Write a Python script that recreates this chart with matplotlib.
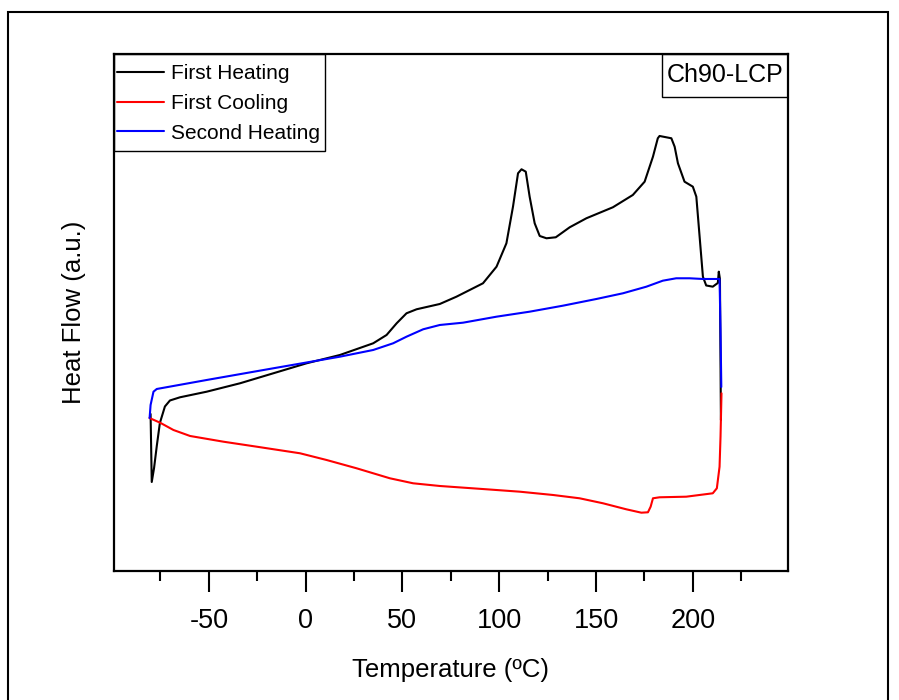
import matplotlib
matplotlib.use("Agg")
import matplotlib.pyplot as plt
from matplotlib.patches import Rectangle
from matplotlib.ticker import MultipleLocator

plt.rcParams["font.family"] = ["Liberation Sans", "DejaVu Sans"]
plt.rcParams["axes.unicode_minus"] = False

# First heating
t_heat1 = [-80.1, -79.5, -78.3, -76.9, -75.3, -72.7, -70.1, -64.9, -51.1, -33.9,
           -16.7, 0.5, 17.7, 34.9, 41.8, 47.0, 52.1, 57.3, 69.3, 77.9,
           91.6, 98.6, 103.7, 107.1, 109.7, 111.5, 113.7, 115.7, 118.3, 120.9,
           124.4, 129.2, 136.4, 145.0, 158.7, 169.0, 175.1, 179.4, 181.9, 182.8,
           188.9, 190.6, 192.3, 195.7, 200.0, 201.8, 203.5, 205.2, 206.9, 210.3,
           212.9, 213.4, 214.0, 214.5]
hf_heat1 = [1.57, 0.89, 1.03, 1.25, 1.48, 1.645, 1.705, 1.737, 1.793, 1.877,
            1.977, 2.077, 2.16, 2.277, 2.36, 2.477, 2.577, 2.617, 2.67, 2.743,
            2.877, 3.043, 3.277, 3.643, 3.977, 4.017, 3.993, 3.743, 3.477, 3.35,
            3.327, 3.337, 3.437, 3.527, 3.637, 3.76, 3.893, 4.143, 4.327, 4.35,
            4.327, 4.243, 4.077, 3.893, 3.843, 3.743, 3.343, 2.943, 2.855, 2.843,
            2.88, 2.993, 2.92, 1.51]

# First cooling
t_cool = [214.8, 214.3, 213.8, 212.4, 210.3, 196.6, 182.8, 179.4, 178.2, 176.8,
          173.4, 165.6, 153.6, 141.5, 127.8, 110.6, 93.4, 69.3, 55.5, 43.5,
          26.3, 10.8, -2.9, -25.3, -42.5, -59.7, -68.3, -75.2, -80.7]
hf_cool = [1.777, 1.343, 1.043, 0.827, 0.777, 0.743, 0.737, 0.727, 0.643, 0.587,
           0.583, 0.617, 0.677, 0.727, 0.76, 0.793, 0.817, 0.85, 0.877, 0.927,
           1.027, 1.11, 1.177, 1.243, 1.293, 1.35, 1.41, 1.483, 1.53]

# Second heating
t_heat2 = [-80.6, -80.1, -78.6, -76.9, -51.1, -16.7, 17.7, 34.9, 45.2, 52.1,
           60.7, 69.3, 81.3, 98.6, 115.7, 132.9, 150.2, 163.9, 176.0, 184.5,
           191.4, 198.3, 205.2, 213.8, 214.3, 214.7]
hf_heat2 = [1.53, 1.66, 1.793, 1.82, 1.91, 2.027, 2.143, 2.21, 2.277, 2.343,
            2.417, 2.46, 2.483, 2.543, 2.593, 2.653, 2.72, 2.777, 2.843, 2.903,
            2.927, 2.927, 2.92, 2.92, 2.41, 1.84]

x_min, x_max = -99, 249
y_min, y_max = 0, 5.17

fig = plt.figure(figsize=(8.99, 7), dpi=100)
ax = fig.add_axes([0.1268, 0.1843, 0.7494, 0.7386])

line_kw = dict(linewidth=1.5, solid_joinstyle="round", solid_capstyle="round")
ax.plot(t_heat1, hf_heat1, color="black", label="First Heating", **line_kw)
ax.plot(t_cool, hf_cool, color="red", label="First Cooling", **line_kw)
ax.plot(t_heat2, hf_heat2, color="blue", label="Second Heating", **line_kw)

ax.set_xlim(x_min, x_max)
ax.set_ylim(y_min, y_max)
ax.xaxis.set_major_locator(MultipleLocator(50))
ax.xaxis.set_minor_locator(MultipleLocator(25))
ax.tick_params(axis="x", which="major", direction="out", length=15, width=1.5,
               pad=12, labelsize=19.5)
ax.tick_params(axis="x", which="minor", direction="out", length=7.5, width=1.5)
ax.tick_params(axis="y", which="both", left=False, labelleft=False)
for sp in ax.spines.values():
    sp.set_linewidth(1.6)

ax.set_xlabel("Temperature (ºC)", fontsize=18.5)
ax.xaxis.set_label_coords(0.5, -0.168)
ax.set_ylabel("Heat Flow (a.u.)", fontsize=18.5)
ax.yaxis.set_label_coords(-0.041, 0.5)

# legend without its own frame, box drawn separately
leg = ax.legend(loc="upper left", bbox_to_anchor=(0, 0.9865), fontsize=15,
                frameon=False, borderaxespad=0, borderpad=0.15, handlelength=2.25,
                handletextpad=0.35, labelspacing=0.52)
ax.add_patch(Rectangle((0, 1 - 0.1876), 0.313, 0.1876, transform=ax.transAxes,
                       fill=False, edgecolor="black", linewidth=1.0, zorder=5))

# sample tag, top right
ax.add_patch(Rectangle((0.8134, 0.9168), 1 - 0.8134, 1 - 0.9168, transform=ax.transAxes,
                       fill=False, edgecolor="black", linewidth=1.0, zorder=5))
ax.text(0.9067, 0.9584, "Ch90-LCP", transform=ax.transAxes, fontsize=18,
        ha="center", va="center")

# outer frame round the whole figure
fig.patches.append(Rectangle((7.5 / 899, -0.01), (888 - 7.5) / 899, (700 - 12) / 700 + 0.01,
                             transform=fig.transFigure, fill=False,
                             edgecolor="black", linewidth=1.5))

fig.savefig("out.png", dpi=100)
